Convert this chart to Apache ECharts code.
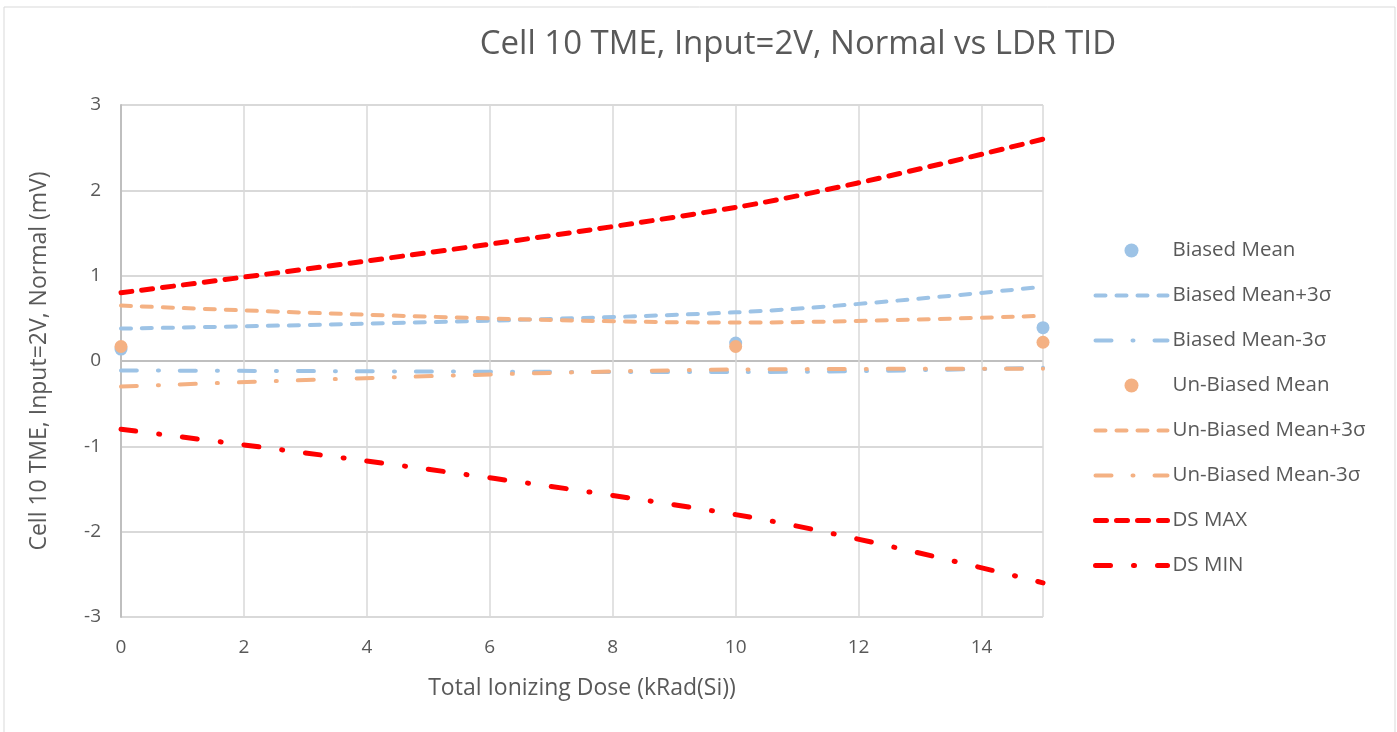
<!DOCTYPE html>
<html>
<head>
<meta charset="utf-8">
<script src="https://cdn.jsdelivr.net/npm/echarts@6/dist/echarts.min.js"></script>
<style>html,body{margin:0;padding:0;background:#fff;}#c{width:1397px;height:732px;}</style>
</head>
<body>
<div id="c"></div>
<script>
const doses = [0, 10, 15];
const biasedMean = [0.14, 0.21, 0.39];
const biasedPlus3s = [0.38, 0.57, 0.87];
const biasedMinus3s = [-0.11, -0.13, -0.08];
const unbiasedMean = [0.17, 0.17, 0.22];
const unbiasedPlus3s = [0.65, 0.45, 0.53];
const unbiasedMinus3s = [-0.30, -0.10, -0.09];
const dsMax = [0.8, 1.8, 2.6];
const dsMin = [-0.8, -1.8, -2.6];
const xTicks = [0, 2, 4, 6, 8, 10, 12, 14];
const yTicks = [-3, -2, -1, 0, 1, 2, 3];

const BLUE = '#9dc3e6', ORANGE = '#f4b183', RED = '#ff0000';
const pts = ys => doses.map((x, i) => [x, ys[i]]);
const FONT = '"Open Sans", "Liberation Sans", sans-serif';
const dash = [10, 11];
const dashDot = [16, 21, 1, 21];
const dsDash = [11, 10];
const dsDashDot = [15, 23, 1, 23];

function lineSeries(name, ys, color, type, width) {
  return {
    name, type: 'line', data: pts(ys), smooth: 0.35, symbol: 'none',
    lineStyle: { color, width, type, cap: 'round', join: 'round' },
    itemStyle: { color },
    emphasis: { disabled: true }, z: 3
  };
}
function scatterSeries(name, ys, color) {
  return {
    name, type: 'scatter', data: pts(ys), symbol: 'circle', symbolSize: 13,
    itemStyle: { color, opacity: 1 }, emphasis: { disabled: true }, z: 4
  };
}
function legendLine(name, color, type, width) {
  return {
    name,
    itemStyle: { color: 'rgba(0,0,0,0)', borderWidth: 0, opacity: 0 },
    lineStyle: { color, width, type, cap: 'round', opacity: 1 }
  };
}
function legendDot(name, color) {
  return { name, icon: 'circle', itemStyle: { color } };
}

const chart = echarts.init(document.getElementById('c'));
chart.setOption({
  animation: false,
  backgroundColor: '#fff',
  textStyle: { fontFamily: FONT },
  graphic: [{
    type: 'rect', shape: { x: 4, y: 7, width: 1391, height: 735 },
    style: { fill: 'none', stroke: '#d9d9d9', lineWidth: 1 }, silent: true, z: -1
  }],
  title: {
    text: 'Cell 10 TME, Input=2V, Normal vs LDR TID',
    left: 793, textAlign: 'center', top: 23,
    textStyle: { fontFamily: FONT, fontSize: 33, fontWeight: 'normal', color: '#595959' }
  },
  grid: { left: 121, right: 354, top: 105, bottom: 115, containLabel: false },
  xAxis: {
    type: 'value', min: 0, max: 15, interval: 2,
    name: 'Total Ionizing Dose (kRad(Si))', nameLocation: 'middle', nameGap: 60,
    nameTextStyle: { fontFamily: FONT, fontSize: 23, color: '#595959' },
    axisLine: { show: false },
    axisTick: { show: false },
    axisLabel: {
      fontFamily: FONT, fontSize: 19, color: '#595959', margin: 21,
      formatter: v => xTicks.indexOf(v) >= 0 ? String(v) : '',
      showMaxLabel: false
    },
    splitLine: { show: true, lineStyle: { color: '#d9d9d9', width: 1.5 } }
  },
  yAxis: {
    type: 'value', min: -3, max: 3, interval: 1,
    name: 'Cell 10 TME, Input=2V, Normal (mV)', nameLocation: 'middle', nameGap: 70,
    nameTextStyle: { fontFamily: FONT, fontSize: 23, color: '#595959' },
    axisLine: { show: true, lineStyle: { color: '#bfbfbf', width: 2 } },
    axisTick: { show: false },
    axisLabel: {
      fontFamily: FONT, fontSize: 19, color: '#595959', margin: 20,
      formatter: v => yTicks.indexOf(v) >= 0 ? String(v) : ''
    },
    splitLine: {
      show: true,
      lineStyle: { color: yTicks.map(v => v === 0 ? '#bfbfbf' : '#d9d9d9'), width: 2 }
    }
  },
  legend: {
    orient: 'vertical', left: 1088, top: 233,
    itemWidth: 72, itemHeight: 14, itemGap: 20,
    textStyle: { fontFamily: FONT, fontSize: 20.5, color: '#595959', lineHeight: 25 },
    lineStyle: { width: 'inherit' },
    data: [
      legendDot('Biased Mean', BLUE),
      legendLine('Biased Mean+3σ', BLUE, dash, 4),
      legendLine('Biased Mean-3σ', BLUE, dashDot, 4),
      legendDot('Un-Biased Mean', ORANGE),
      legendLine('Un-Biased Mean+3σ', ORANGE, dash, 4),
      legendLine('Un-Biased Mean-3σ', ORANGE, dashDot, 4),
      legendLine('DS MAX', RED, dsDash, 5),
      legendLine('DS MIN', RED, dsDashDot, 5)
    ]
  },
  series: [
    scatterSeries('Biased Mean', biasedMean, BLUE),
    lineSeries('Biased Mean+3σ', biasedPlus3s, BLUE, dash, 4),
    lineSeries('Biased Mean-3σ', biasedMinus3s, BLUE, dashDot, 4),
    scatterSeries('Un-Biased Mean', unbiasedMean, ORANGE),
    lineSeries('Un-Biased Mean+3σ', unbiasedPlus3s, ORANGE, dash, 4),
    lineSeries('Un-Biased Mean-3σ', unbiasedMinus3s, ORANGE, dashDot, 4),
    lineSeries('DS MAX', dsMax, RED, dsDash, 5),
    lineSeries('DS MIN', dsMin, RED, dsDashDot, 5)
  ]
});
</script>
</body>
</html>
